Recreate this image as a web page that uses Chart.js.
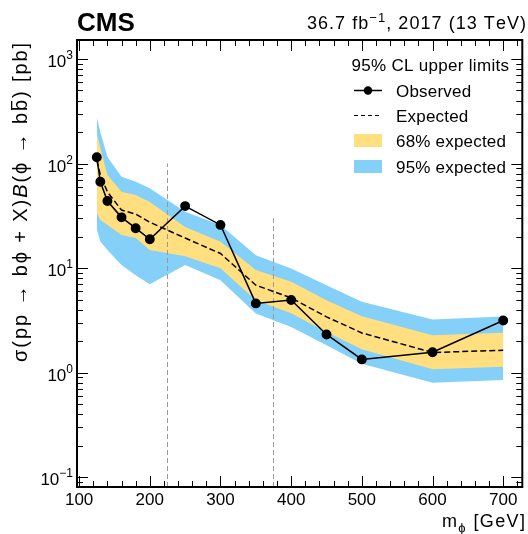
<!DOCTYPE html>
<html>
<head>
<meta charset="utf-8">
<script src="https://cdn.jsdelivr.net/npm/chart.js@4.4.0/dist/chart.umd.min.js"></script>
<style>
  html, body { margin: 0; padding: 0; background: #fff; }
</style>
</head>
<body>
<canvas id="myChart" width="528" height="534"></canvas>
<script>
// mass points [GeV]
var masses = [125, 130, 140, 160, 180, 200, 250, 300, 350, 400, 450, 500, 600, 700];
// limits [pb]
var observed  = [115, 67, 43.8, 30.6, 24.1, 18.9, 39.2, 25.9, 4.6, 4.95, 2.32, 1.34, 1.57, 3.16];
var expected  = [108, 78, 53.5, 35.9, 32.9, 27.5, 19.4, 13.8, 6.87, 5.2, 3.42, 2.4, 1.56, 1.64];
var exp68Up   = [196, 140, 77.6, 53.7, 50, 43, 24.8, 17.9, 9.58, 7.4, 4.94, 3.47, 2.28, 2.41];
var exp68Down = [33.6, 28.8, 25.8, 20.7, 19.4, 14.9, 13.0, 10.0, 4.94, 3.71, 2.45, 1.68, 1.08, 1.14];
var exp95Up   = [278, 200, 116, 74.8, 67, 58, 34.6, 25.8, 13.3, 9.93, 6.87, 4.76, 3.23, 3.45];
var exp95Down = [23.5, 18.0, 14.9, 10.7, 8.57, 7.03, 10.7, 7.67, 3.68, 2.74, 1.83, 1.22, 0.80, 0.85];
// analysis region boundaries
var boundaryMasses = [225, 375];
var boundaryTops = [100, 30];

var xMin = 97, xMax = 727;
var yMin = 0.0807, yMax = 1520;
var xTicks = [100, 200, 300, 400, 500, 600, 700];
var yTicks = [0.1, 1, 10, 100, 1000];
var yTickExp = ['\u22121', '0', '1', '2', '3'];

var FONT = "'Liberation Sans', Arial, Helvetica, sans-serif";
var YELLOW = 'rgb(255,223,127)';
var BLUE = 'rgb(133,208,248)';

function pts(vals) {
    return masses.map(function(m, i) { return { x: m, y: vals[i] }; });
}

// draws pieces of text one after another (with extra letter spacing), returns width
function richText(ctx, parts, x, y, align, spacing) {
    spacing = spacing || 0;
    var w = 0;
    parts.forEach(function(p) {
        ctx.font = p.font;
        p.chars = Array.from(p.t);
        p.w = 0;
        p.chars.forEach(function(c) { p.w += ctx.measureText(c).width + spacing; });
        w += p.w;
    });
    w -= spacing;
    var cx = align === 'right' ? x - w : (align === 'center' ? x - w / 2 : x);
    ctx.textAlign = 'left';
    ctx.textBaseline = 'alphabetic';
    parts.forEach(function(p) {
        ctx.font = p.font;
        var start = cx;
        p.chars.forEach(function(c) {
            ctx.fillText(c, cx, y + (p.dy || 0));
            cx += ctx.measureText(c).width + spacing;
        });
        if (p.bar) {
            ctx.fillRect(start + 1, y - 16, cx - start - spacing - 2, 1.3);
        }
    });
    return w;
}

var framePlugin = {
    id: 'frame',
    afterDraw: function(chart) {
        var ctx = chart.ctx;
        var a = chart.chartArea;
        var xs = chart.scales.x, ys = chart.scales.y;
        ctx.save();
        ctx.fillStyle = '#000';
        ctx.strokeStyle = '#000';

        // ticks
        ctx.lineWidth = 1;
        ctx.beginPath();
        for (var v = 100; v <= 720; v += 20) {
            var px = Math.round(xs.getPixelForValue(v)) + 0.5;
            var len = (v % 100 === 0) ? 11 : 6;
            ctx.moveTo(px, a.bottom); ctx.lineTo(px, a.bottom - len);
            ctx.moveTo(px, a.top); ctx.lineTo(px, a.top + len);
        }
        for (var e = -2; e <= 3; e++) {
            for (var k = 1; k <= 9; k++) {
                var val = k * Math.pow(10, e);
                if (val < yMin || val > yMax) continue;
                var py = Math.round(ys.getPixelForValue(val)) + 0.5;
                var l2 = (k === 1) ? 11 : 6;
                ctx.moveTo(a.left, py); ctx.lineTo(a.left + l2, py);
                ctx.moveTo(a.right, py); ctx.lineTo(a.right - l2, py);
            }
        }
        ctx.stroke();

        // frame
        ctx.lineWidth = 2;
        ctx.strokeRect(a.left, a.top, a.right - a.left, a.bottom - a.top);

        // x tick labels
        ctx.font = '17px ' + FONT;
        ctx.textAlign = 'center';
        ctx.textBaseline = 'alphabetic';
        xTicks.forEach(function(t) {
            ctx.fillText(String(t), xs.getPixelForValue(t), 505);
        });

        // y tick labels
        yTicks.forEach(function(t, i) {
            var py = ys.getPixelForValue(t);
            richText(ctx, [
                { t: '10', font: '17px ' + FONT },
                { t: yTickExp[i], font: '12px ' + FONT, dy: -8 }
            ], 73, py + 8, 'right');
        });

        // axis titles
        richText(ctx, [
            { t: 'm', font: '18px ' + FONT },
            { t: '\u03D5', font: '13px ' + FONT, dy: 5 },
            { t: ' [GeV]', font: '18px ' + FONT }
        ], 525, 527, 'right', 1.4);

        ctx.save();
        ctx.translate(27, 43);
        ctx.rotate(-Math.PI / 2);
        richText(ctx, [
            { t: '\u03C3(pp \u2192 b\u03D5 + X)', font: '20px ' + FONT },
            { t: 'B', font: 'italic 20px ' + FONT },
            { t: '(\u03D5 \u2192 b', font: '20px ' + FONT },
            { t: 'b', font: '20px ' + FONT, bar: true },
            { t: ') [pb]', font: '20px ' + FONT }
        ], 0, 0, 'right', 1.9);
        ctx.restore();

        // header
        richText(ctx, [{ t: 'CMS', font: 'bold 26px ' + FONT }], 77, 31, 'left');
        richText(ctx, [
            { t: '36.7 fb', font: '18px ' + FONT },
            { t: '\u22121', font: '13px ' + FONT, dy: -7 },
            { t: ', 2017 (13 TeV)', font: '18px ' + FONT }
        ], 526, 29, 'right', 1.05);

        // legend
        var lx0 = 354, lx1 = 382, tx = 396;
        richText(ctx, [{ t: '95% CL upper limits', font: '17px ' + FONT }], 509, 71, 'right', 0.3);
        ctx.lineWidth = 1.5;
        ctx.beginPath(); ctx.moveTo(lx0, 90.5); ctx.lineTo(lx1, 90.5); ctx.stroke();
        ctx.beginPath(); ctx.arc(368, 90.5, 4.2, 0, 2 * Math.PI); ctx.fill();
        richText(ctx, [{ t: 'Observed', font: '17px ' + FONT }], tx, 96.5, 'left', 0.2);
        ctx.setLineDash([4, 3]);
        ctx.lineWidth = 1.2;
        ctx.beginPath(); ctx.moveTo(lx0, 115.5); ctx.lineTo(lx1, 115.5); ctx.stroke();
        ctx.setLineDash([]);
        richText(ctx, [{ t: 'Expected', font: '17px ' + FONT }], tx, 121.5, 'left', 0.2);
        ctx.fillStyle = YELLOW;
        ctx.fillRect(lx0, 134, lx1 - lx0, 13);
        ctx.fillStyle = '#000';
        richText(ctx, [{ t: '68% expected', font: '17px ' + FONT }], tx, 146.5, 'left', 0.2);
        ctx.fillStyle = BLUE;
        ctx.fillRect(lx0, 160, lx1 - lx0, 13);
        ctx.fillStyle = '#000';
        richText(ctx, [{ t: '95% expected', font: '17px ' + FONT }], tx, 172.5, 'left', 0.2);

        ctx.restore();
    }
};

var datasets = [
    {
        label: 'Observed', data: pts(observed), order: 0,
        borderColor: '#000', backgroundColor: '#000', borderWidth: 1.5,
        pointRadius: 4.2, pointBackgroundColor: '#000', fill: false
    },
    {
        label: 'Expected', data: pts(expected), order: 1,
        borderColor: '#000', borderWidth: 1.5, borderDash: [6, 3],
        pointRadius: 0, fill: false
    },
    {
        label: '68% up', data: pts(exp68Up), order: 2,
        borderWidth: 0, pointRadius: 0, backgroundColor: YELLOW, fill: '+1'
    },
    {
        label: '68% down', data: pts(exp68Down), order: 2,
        borderWidth: 0, pointRadius: 0, fill: false
    },
    {
        label: '95% up', data: pts(exp95Up), order: 3,
        borderWidth: 0, pointRadius: 0, backgroundColor: BLUE, fill: '+1'
    },
    {
        label: '95% down', data: pts(exp95Down), order: 3,
        borderWidth: 0, pointRadius: 0, fill: false
    }
];
boundaryMasses.forEach(function(m, i) {
    datasets.push({
        label: 'boundary', data: [{ x: m, y: yMin }, { x: m, y: boundaryTops[i] }], order: 1,
        borderColor: '#999', borderWidth: 1, borderDash: [5, 3], pointRadius: 0, fill: false
    });
});

var ctx = document.getElementById('myChart');
var myChart = new Chart(ctx, {
    type: 'line',
    data: { datasets: datasets },
    options: {
        responsive: false,
        animation: false,
        devicePixelRatio: 1,
        layout: { padding: { left: 77, right: 2, top: 40, bottom: 47 } },
        plugins: { legend: { display: false }, tooltip: { enabled: false } },
        elements: { line: { tension: 0 } },
        scales: {
            x: {
                type: 'linear', min: xMin, max: xMax,
                grid: { display: false }, border: { display: false },
                ticks: { display: false },
                afterFit: function(s) { s.height = 0; }
            },
            y: {
                type: 'logarithmic', min: yMin, max: yMax,
                grid: { display: false }, border: { display: false },
                ticks: { display: false },
                afterFit: function(s) { s.width = 0; }
            }
        }
    },
    plugins: [framePlugin]
});
</script>
</body>
</html>
